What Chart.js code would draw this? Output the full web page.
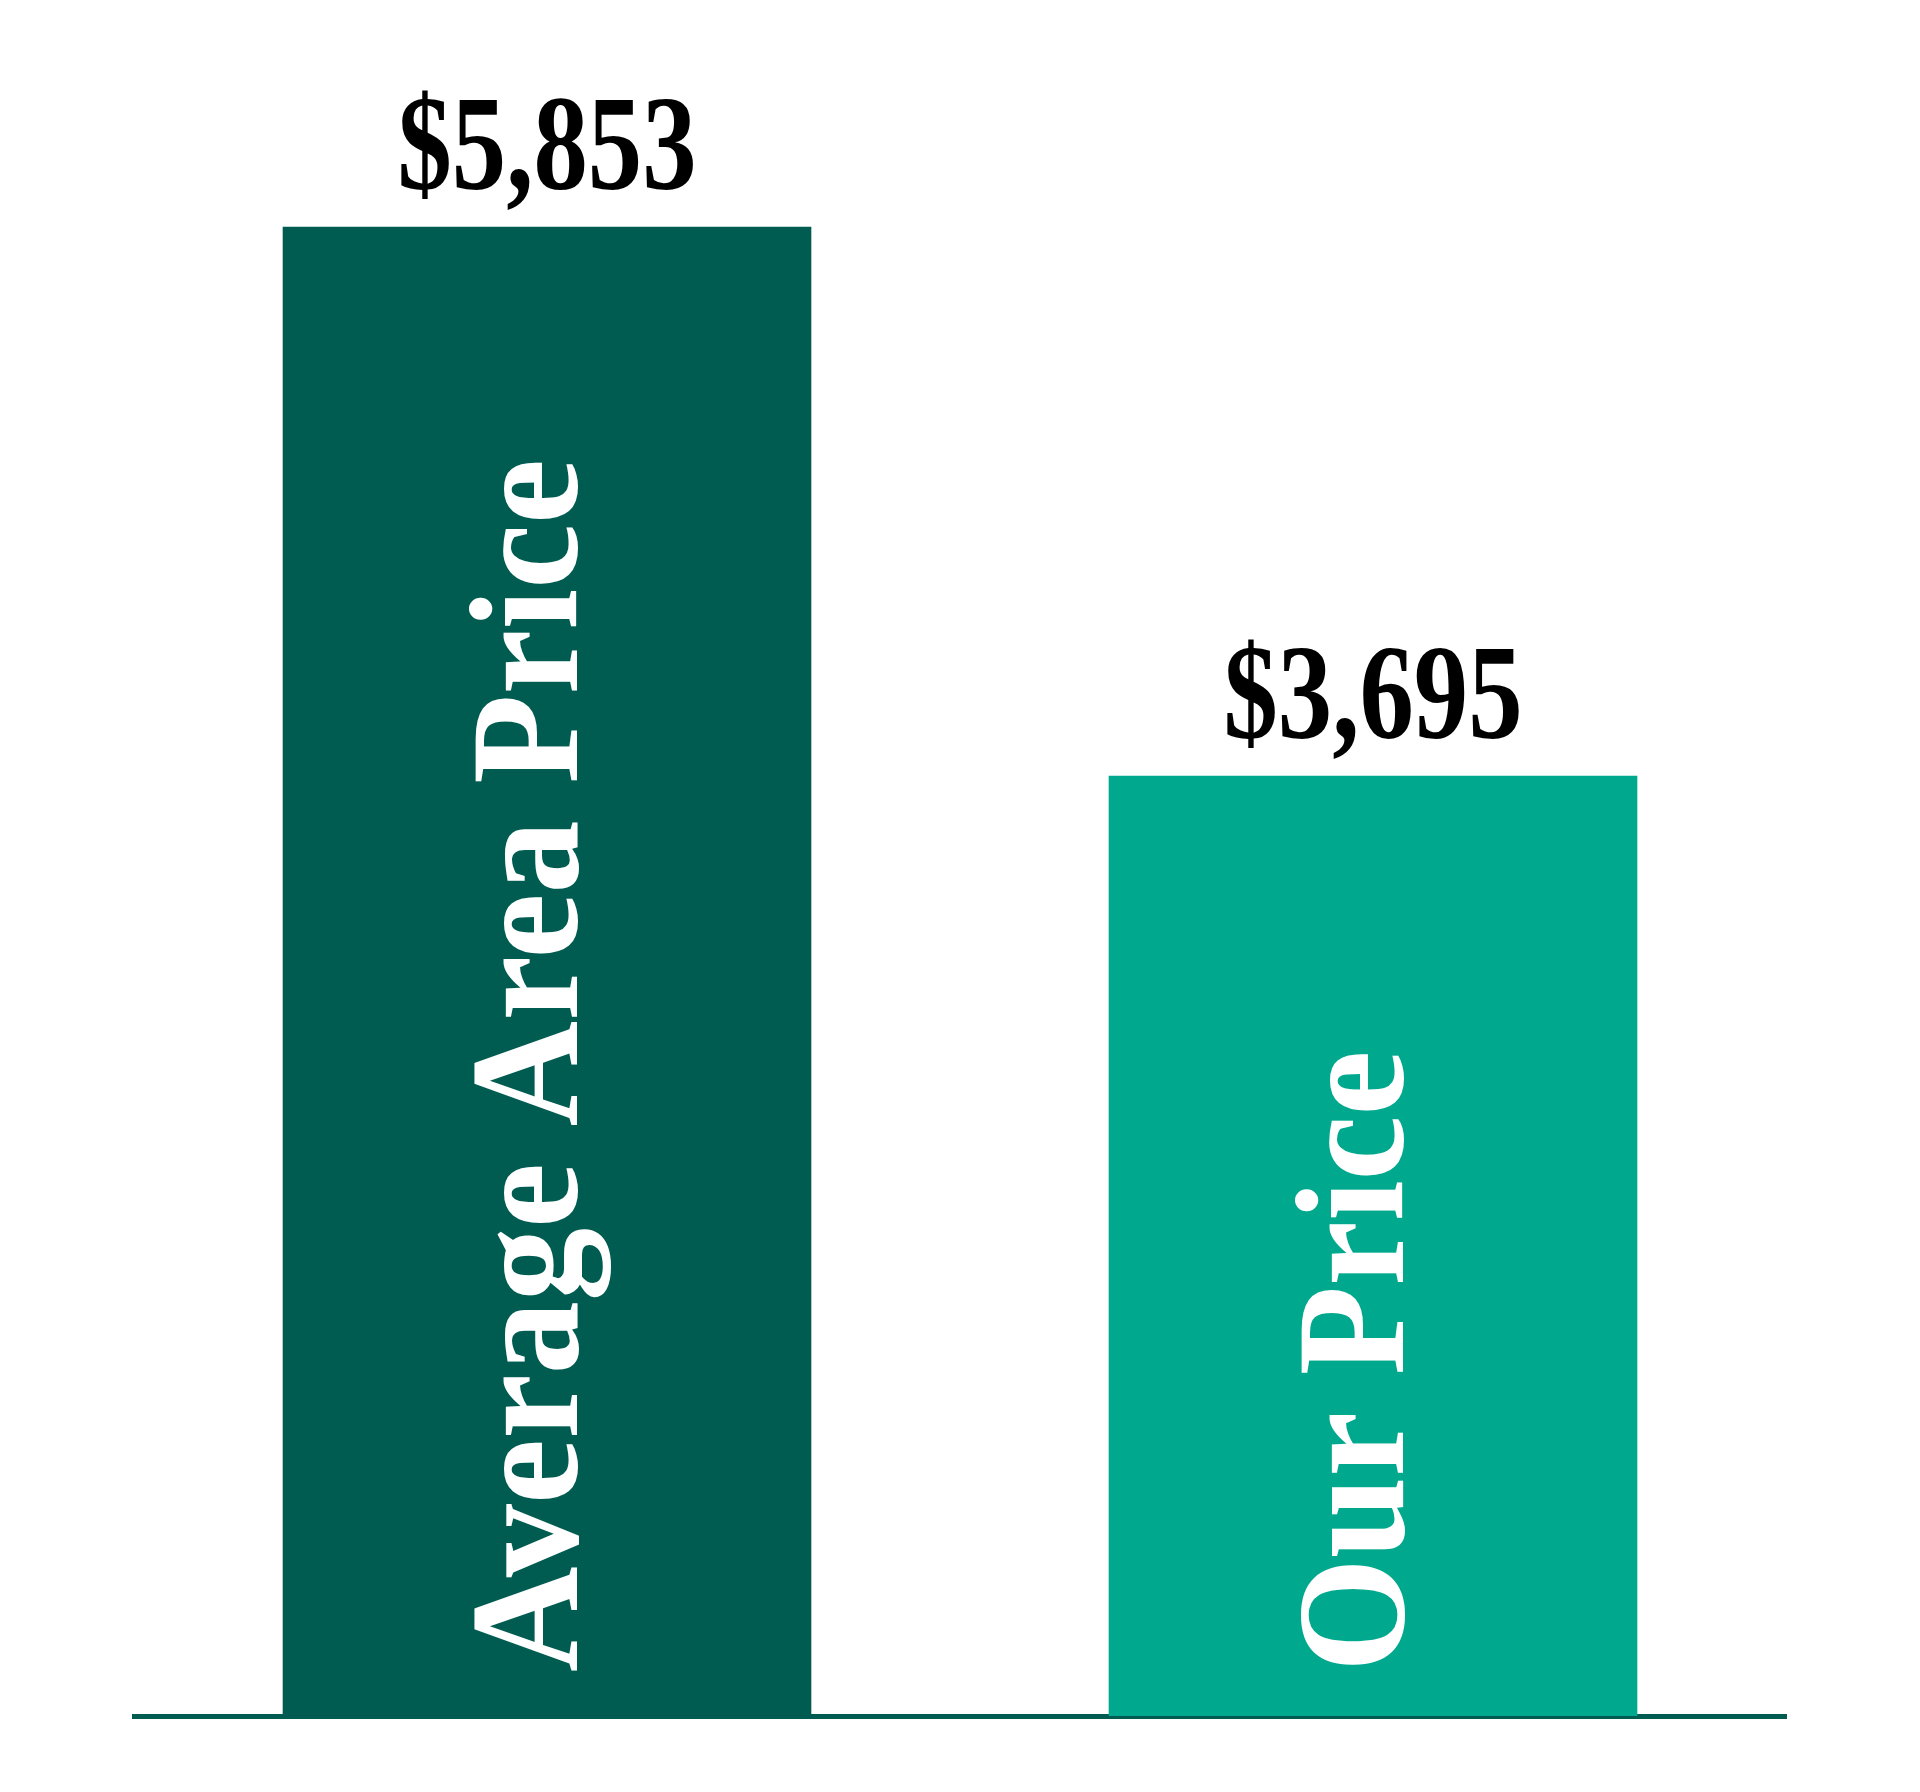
<!DOCTYPE html>
<html>
<head>
<meta charset="utf-8">
<script src="https://cdn.jsdelivr.net/npm/chart.js@4/dist/chart.umd.min.js"></script>
<style>
  html, body { margin: 0; padding: 0; background: #ffffff; }
  #wrap { width: 1920px; height: 1792px; position: relative; }
</style>
</head>
<body>
<div id="wrap"><canvas id="c" width="1920" height="1792"></canvas></div>
<script>
const categories = ["Average Area Price", "Our Price"];
const prices = [5853, 3695];
const barColors = ["#005C50", "#00A88E"];
const yMin = 0;
const yMax = 6500;

const labelPlugin = {
  id: 'barLabels',
  afterDatasetsDraw(chart) {
    const ctx = chart.ctx;
    const meta = chart.getDatasetMeta(0);
    meta.data.forEach((bar, i) => {
      // value label above the bar
      ctx.save();
      ctx.fillStyle = '#000000';
      ctx.font = 'bold 136px "Liberation Serif", "DejaVu Serif", serif';
      ctx.textAlign = 'center';
      ctx.textBaseline = 'alphabetic';
      ctx.translate(bar.x, bar.y - 38);
      ctx.scale(0.8, 1);
      ctx.fillText('$' + prices[i].toLocaleString('en-US'), 0, 0);
      ctx.restore();

      // rotated category label inside the bar
      ctx.save();
      ctx.fillStyle = '#ffffff';
      ctx.font = 'bold 154px "Liberation Serif", "DejaVu Serif", serif';
      ctx.textAlign = 'left';
      ctx.textBaseline = 'alphabetic';
      ctx.translate(bar.x + 30, bar.base - 44);
      ctx.rotate(-Math.PI / 2);
      ctx.scale(0.95, 1);
      ctx.fillText(categories[i], 0, 0);
      ctx.restore();
    });
  }
};

new Chart(document.getElementById('c'), {
  type: 'bar',
  data: {
    labels: categories,
    datasets: [{
      data: prices,
      backgroundColor: barColors,
      borderWidth: 0,
      barPercentage: 0.64,
      categoryPercentage: 1.0
    }]
  },
  options: {
    responsive: false,
    maintainAspectRatio: false,
    devicePixelRatio: 1,
    animation: false,
    layout: { padding: { left: 134, right: 134, top: 62, bottom: 76 } },
    plugins: {
      legend: { display: false },
      tooltip: { enabled: false },
      title: { display: false }
    },
    scales: {
      x: {
        display: true,
        grid: { display: false, drawTicks: false },
        ticks: { display: false },
        border: { display: true, color: '#005C50', width: 5 }
      },
      y: {
        display: false,
        min: yMin,
        max: yMax
      }
    }
  },
  plugins: [labelPlugin]
});
</script>
</body>
</html>
